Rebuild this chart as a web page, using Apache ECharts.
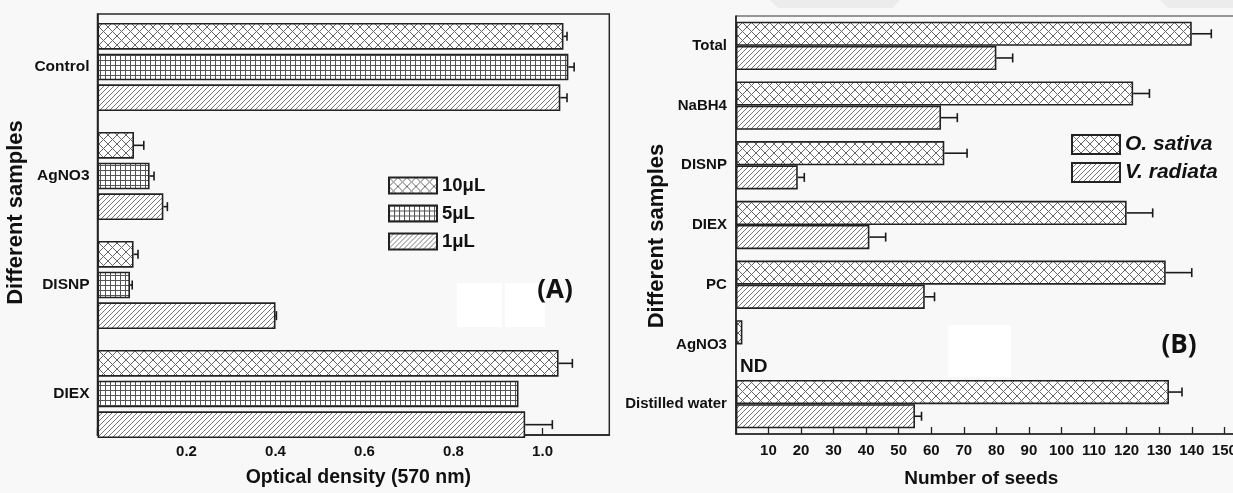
<!DOCTYPE html>
<html><head><meta charset="utf-8">
<script src="https://cdn.jsdelivr.net/npm/echarts@6/dist/echarts.min.js"></script>
<style>html,body{margin:0;padding:0;overflow:hidden;background:#f8f8f8}#c{width:1260px;height:493px}</style>
</head><body><div id="c"></div>
<script>
// ---- Panel A data ----
const catsA = ['Control', 'AgNO3', 'DISNP', 'DIEX'];
const seriesNamesA = ['10μL', '5μL', '1μL'];
const val10 = [1.047, 0.082, 0.081, 1.036];
const err10 = [0.008, 0.022, 0.010, 0.031];
const val5 = [1.058, 0.117, 0.073, 0.946];
const err5 = [0.013, 0.010, 0.005, 0];
const val1 = [1.040, 0.148, 0.400, 0.961];
const err1 = [0.015, 0.009, 0.002, 0.061];
const ticksA = [0.2, 0.4, 0.6, 0.8, 1.0];

// ---- Panel B data ----
const catsB = ['Total', 'NaBH4', 'DISNP', 'DIEX', 'PC', 'AgNO3', 'Distilled water'];
const seriesNamesB = ['O. sativa', 'V. radiata'];
const sativa = [140, 122, 64, 120, 132, 2, 133];
const sativaErr = [6, 5, 7, 8, 8, 0, 4];
const radiata = [80, 63, 19, 41, 58, '-', 55];
const radiataErr = [5, 5, 2, 5, 3, 0, 2];

const FONT = '"Liberation Sans", Arial, sans-serif';

function makePattern(type) {
  const c = document.createElement('canvas');
  const ctx = c.getContext('2d');
  if (type === 'cross') {
    const s = 9; c.width = s; c.height = s;
    ctx.fillStyle = '#ffffff'; ctx.fillRect(0, 0, s, s);
    ctx.strokeStyle = '#666666'; ctx.lineWidth = 1;
    ctx.beginPath();
    ctx.moveTo(-1, -1); ctx.lineTo(s + 1, s + 1);
    ctx.moveTo(s + 1, -1); ctx.lineTo(-1, s + 1);
    ctx.stroke();
  } else if (type === 'grid') {
    const s = 5; c.width = s; c.height = s;
    ctx.fillStyle = '#ffffff'; ctx.fillRect(0, 0, s, s);
    ctx.fillStyle = '#555555';
    ctx.fillRect(0, 0, s, 1); ctx.fillRect(0, 0, 1, s);
  } else {
    const s = 5; c.width = s; c.height = s;
    ctx.fillStyle = '#ffffff'; ctx.fillRect(0, 0, s, s);
    ctx.strokeStyle = '#777777'; ctx.lineWidth = 1;
    ctx.beginPath();
    ctx.moveTo(-1, s + 1); ctx.lineTo(s + 1, -1);
    ctx.moveTo(-1, 1); ctx.lineTo(1, -1);
    ctx.moveTo(s - 1, s + 1); ctx.lineTo(s + 1, s - 1);
    ctx.stroke();
  }
  return { image: c, repeat: 'repeat' };
}
const pCross = makePattern('cross');
const pGrid = makePattern('grid');
const pDiag = makePattern('diag');

function errRenderer(n, catGap, gap) {
  return function (params, api) {
    const cat = api.value(0), v = api.value(1), e = api.value(2), si = api.value(3);
    if (!e) return null;
    const p0 = api.coord([v, cat]);
    const p1 = api.coord([v + e, cat]);
    const band = api.size([0, 1])[1];
    const groupW = band * (1 - catGap);
    const w = groupW / (n + (n - 1) * gap);
    const y = p0[1] - groupW / 2 + si * w * (1 + gap) + w / 2;
    const st = { stroke: '#1a1a1a', lineWidth: 1.6 };
    return {
      type: 'group', children: [
        { type: 'line', shape: { x1: p0[0], y1: y, x2: p1[0], y2: y }, style: st },
        { type: 'line', shape: { x1: p1[0], y1: y - 4.5, x2: p1[0], y2: y + 4.5 }, style: st }
      ]
    };
  };
}

const errA = [];
[[val10, err10], [val5, err5], [val1, err1]].forEach((pair, si) => {
  pair[0].forEach((v, i) => errA.push([i, v, pair[1][i], si]));
});
const errB = [];
[[sativa, sativaErr], [radiata, radiataErr]].forEach((pair, si) => {
  pair[0].forEach((v, i) => { if (v !== '-') errB.push([i, v, pair[1][i], si]); });
});

const labelStyle = { fontFamily: FONT, fontWeight: 'bold', fontSize: 15, color: '#111' };
const nameStyle = { fontFamily: FONT, fontWeight: 'bold', fontSize: 19, color: '#111' };
const axisLineSt = { show: true, lineStyle: { color: '#222', width: 1.6 } };
const tickSt = { show: true, inside: true, length: 7, lineStyle: { color: '#222', width: 1.3 } };

const A_CATGAP = 0.193, A_GAP = 0.15, B_CATGAP = 0.19, B_GAP = 0;
const barCommonA = { barCategoryGap: (A_CATGAP * 100) + '%', barGap: (A_GAP * 100) + '%', xAxisIndex: 0, yAxisIndex: 0, type: 'bar' };
const barCommonB = { barCategoryGap: (B_CATGAP * 100) + '%', barGap: (B_GAP * 100) + '%', xAxisIndex: 2, yAxisIndex: 2, type: 'bar' };
const border = { borderColor: '#222222', borderWidth: 1.6 };

const option = {
  backgroundColor: '#f8f8f8',
  animation: false,
  grid: [
    { left: 97.5, top: 12.5, width: 511.8, height: 436, show: false },
    { left: 97.5, top: 14, width: 511.8, height: 427.7, show: true, borderColor: '#2a2a2a', borderWidth: 1.5, backgroundColor: 'transparent' },
    { left: 735.9, top: 16, width: 504.7, height: 425.7, show: true, borderColor: '#333', borderWidth: 1, backgroundColor: 'transparent' }
  ],
  xAxis: [
    { gridIndex: 0, type: 'value', min: 0, max: 1.15, show: false },
    {
      gridIndex: 1, type: 'value', min: 0, max: 1.15, interval: 0.2,
      axisLine: axisLineSt, axisTick: tickSt, splitLine: { show: false },
      axisLabel: Object.assign({ margin: 9, showMaxLabel: false, formatter: v => (ticksA.some(t => Math.abs(t - v) < 1e-6) ? v.toFixed(1) : '') }, labelStyle),
      name: 'Optical density (570 nm)', nameLocation: 'middle', nameGap: 33, nameMoveOverlap: false,
      nameTextStyle: Object.assign({}, nameStyle, { fontSize: 19.5, padding: [0, 0, 0, 10] })
    },
    {
      gridIndex: 2, type: 'value', min: 0, max: 155, interval: 10,
      axisLine: axisLineSt, axisTick: tickSt, splitLine: { show: false },
      axisLabel: Object.assign({ margin: 9, showMaxLabel: false, formatter: v => (v === 0 ? '' : String(v)) }, labelStyle),
      name: 'Number of seeds', nameLocation: 'middle', nameGap: 35, nameMoveOverlap: false,
      nameTextStyle: Object.assign({ padding: [0, 14, 0, 0] }, nameStyle)
    }
  ],
  yAxis: [
    {
      gridIndex: 0, type: 'category', data: catsA, inverse: true,
      axisLine: { show: false }, axisTick: { show: false },
      axisLabel: Object.assign({}, labelStyle, { margin: 8, fontSize: 15.5 }),
      name: 'Different samples', nameLocation: 'middle', nameGap: 70.5, nameRotate: 90, nameMoveOverlap: false,
      nameTextStyle: Object.assign({}, nameStyle, { fontSize: 22, padding: [0, 0, 0, 36] })
    },
    {
      gridIndex: 1, type: 'value', min: 0, max: 1,
      axisLine: axisLineSt, axisTick: { show: false }, axisLabel: { show: false }, splitLine: { show: false }
    },
    {
      gridIndex: 2, type: 'category', data: catsB, inverse: true,
      axisLine: axisLineSt, axisTick: { show: false },
      axisLabel: Object.assign({ margin: 9 }, labelStyle),
      name: 'Different samples', nameLocation: 'middle', nameGap: 68, nameRotate: 90, nameMoveOverlap: false,
      nameTextStyle: Object.assign({}, nameStyle, { fontSize: 22, padding: [0, 22, 0, 0] })
    }
  ],
  legend: [
    {
      data: seriesNamesA, orient: 'vertical', left: 383, top: 171, itemWidth: 48, itemHeight: 16, itemGap: 9,
      icon: 'rect', textStyle: { fontFamily: FONT, fontWeight: 'bold', fontSize: 18.5, color: '#111' }
    },
    {
      data: seriesNamesB, orient: 'vertical', left: 1066, top: 129, itemWidth: 48, itemHeight: 19, itemGap: 7,
      icon: 'rect', textStyle: { fontFamily: FONT, fontWeight: 'bold', fontStyle: 'italic', fontSize: 21, color: '#111' }
    }
  ],
  series: [
    Object.assign({ name: seriesNamesA[0], data: val10, itemStyle: Object.assign({ color: pCross }, border) }, barCommonA),
    Object.assign({ name: seriesNamesA[1], data: val5, itemStyle: Object.assign({ color: pGrid }, border) }, barCommonA),
    Object.assign({ name: seriesNamesA[2], data: val1, itemStyle: Object.assign({ color: pDiag }, border) }, barCommonA),
    { type: 'custom', xAxisIndex: 0, yAxisIndex: 0, renderItem: errRenderer(3, A_CATGAP, A_GAP), data: errA, encode: { x: 1, y: 0 }, z: 3, silent: true },
    Object.assign({ name: seriesNamesB[0], data: sativa, itemStyle: Object.assign({ color: pCross }, border) }, barCommonB),
    Object.assign({ name: seriesNamesB[1], data: radiata, itemStyle: Object.assign({ color: pDiag }, border) }, barCommonB),
    { type: 'custom', xAxisIndex: 2, yAxisIndex: 2, renderItem: errRenderer(2, B_CATGAP, B_GAP), data: errB, encode: { x: 1, y: 0 }, z: 3, silent: true }
  ],
  graphic: [
    { type: 'polygon', shape: { points: [[770, 0], [900, 0], [893, 8], [778, 8]] }, style: { fill: '#ececec' }, z: -1 },
    { type: 'polygon', shape: { points: [[1160, 0], [1260, 0], [1260, 8], [1168, 8]] }, style: { fill: '#ececec' }, z: -1 },
    { type: 'rect', shape: { x: 457, y: 283, width: 45, height: 44 }, style: { fill: '#ffffff' }, z: -1 },
    { type: 'rect', shape: { x: 505, y: 283, width: 40, height: 44 }, style: { fill: '#ffffff' }, z: -1 },
    { type: 'rect', shape: { x: 948, y: 325, width: 63, height: 52 }, style: { fill: '#ffffff' }, z: -1 },
    { type: 'text', x: 555, y: 291, style: { text: '(A)', font: 'bold 26px "Open Sans", sans-serif', fill: '#111', align: 'center', verticalAlign: 'middle' } },
    { type: 'text', x: 1179, y: 346, style: { text: '(B)', font: 'bold 26px "Open Sans", sans-serif', fill: '#111', align: 'center', verticalAlign: 'middle' } },
    { type: 'text', x: 740, y: 367, style: { text: 'ND', font: 'bold 19px "Liberation Sans", Arial, sans-serif', fill: '#111', align: 'left', verticalAlign: 'middle' } }
  ]
};

const chart = echarts.init(document.getElementById('c'), null, { renderer: 'canvas' });
chart.setOption(option);
</script>
</body></html>
